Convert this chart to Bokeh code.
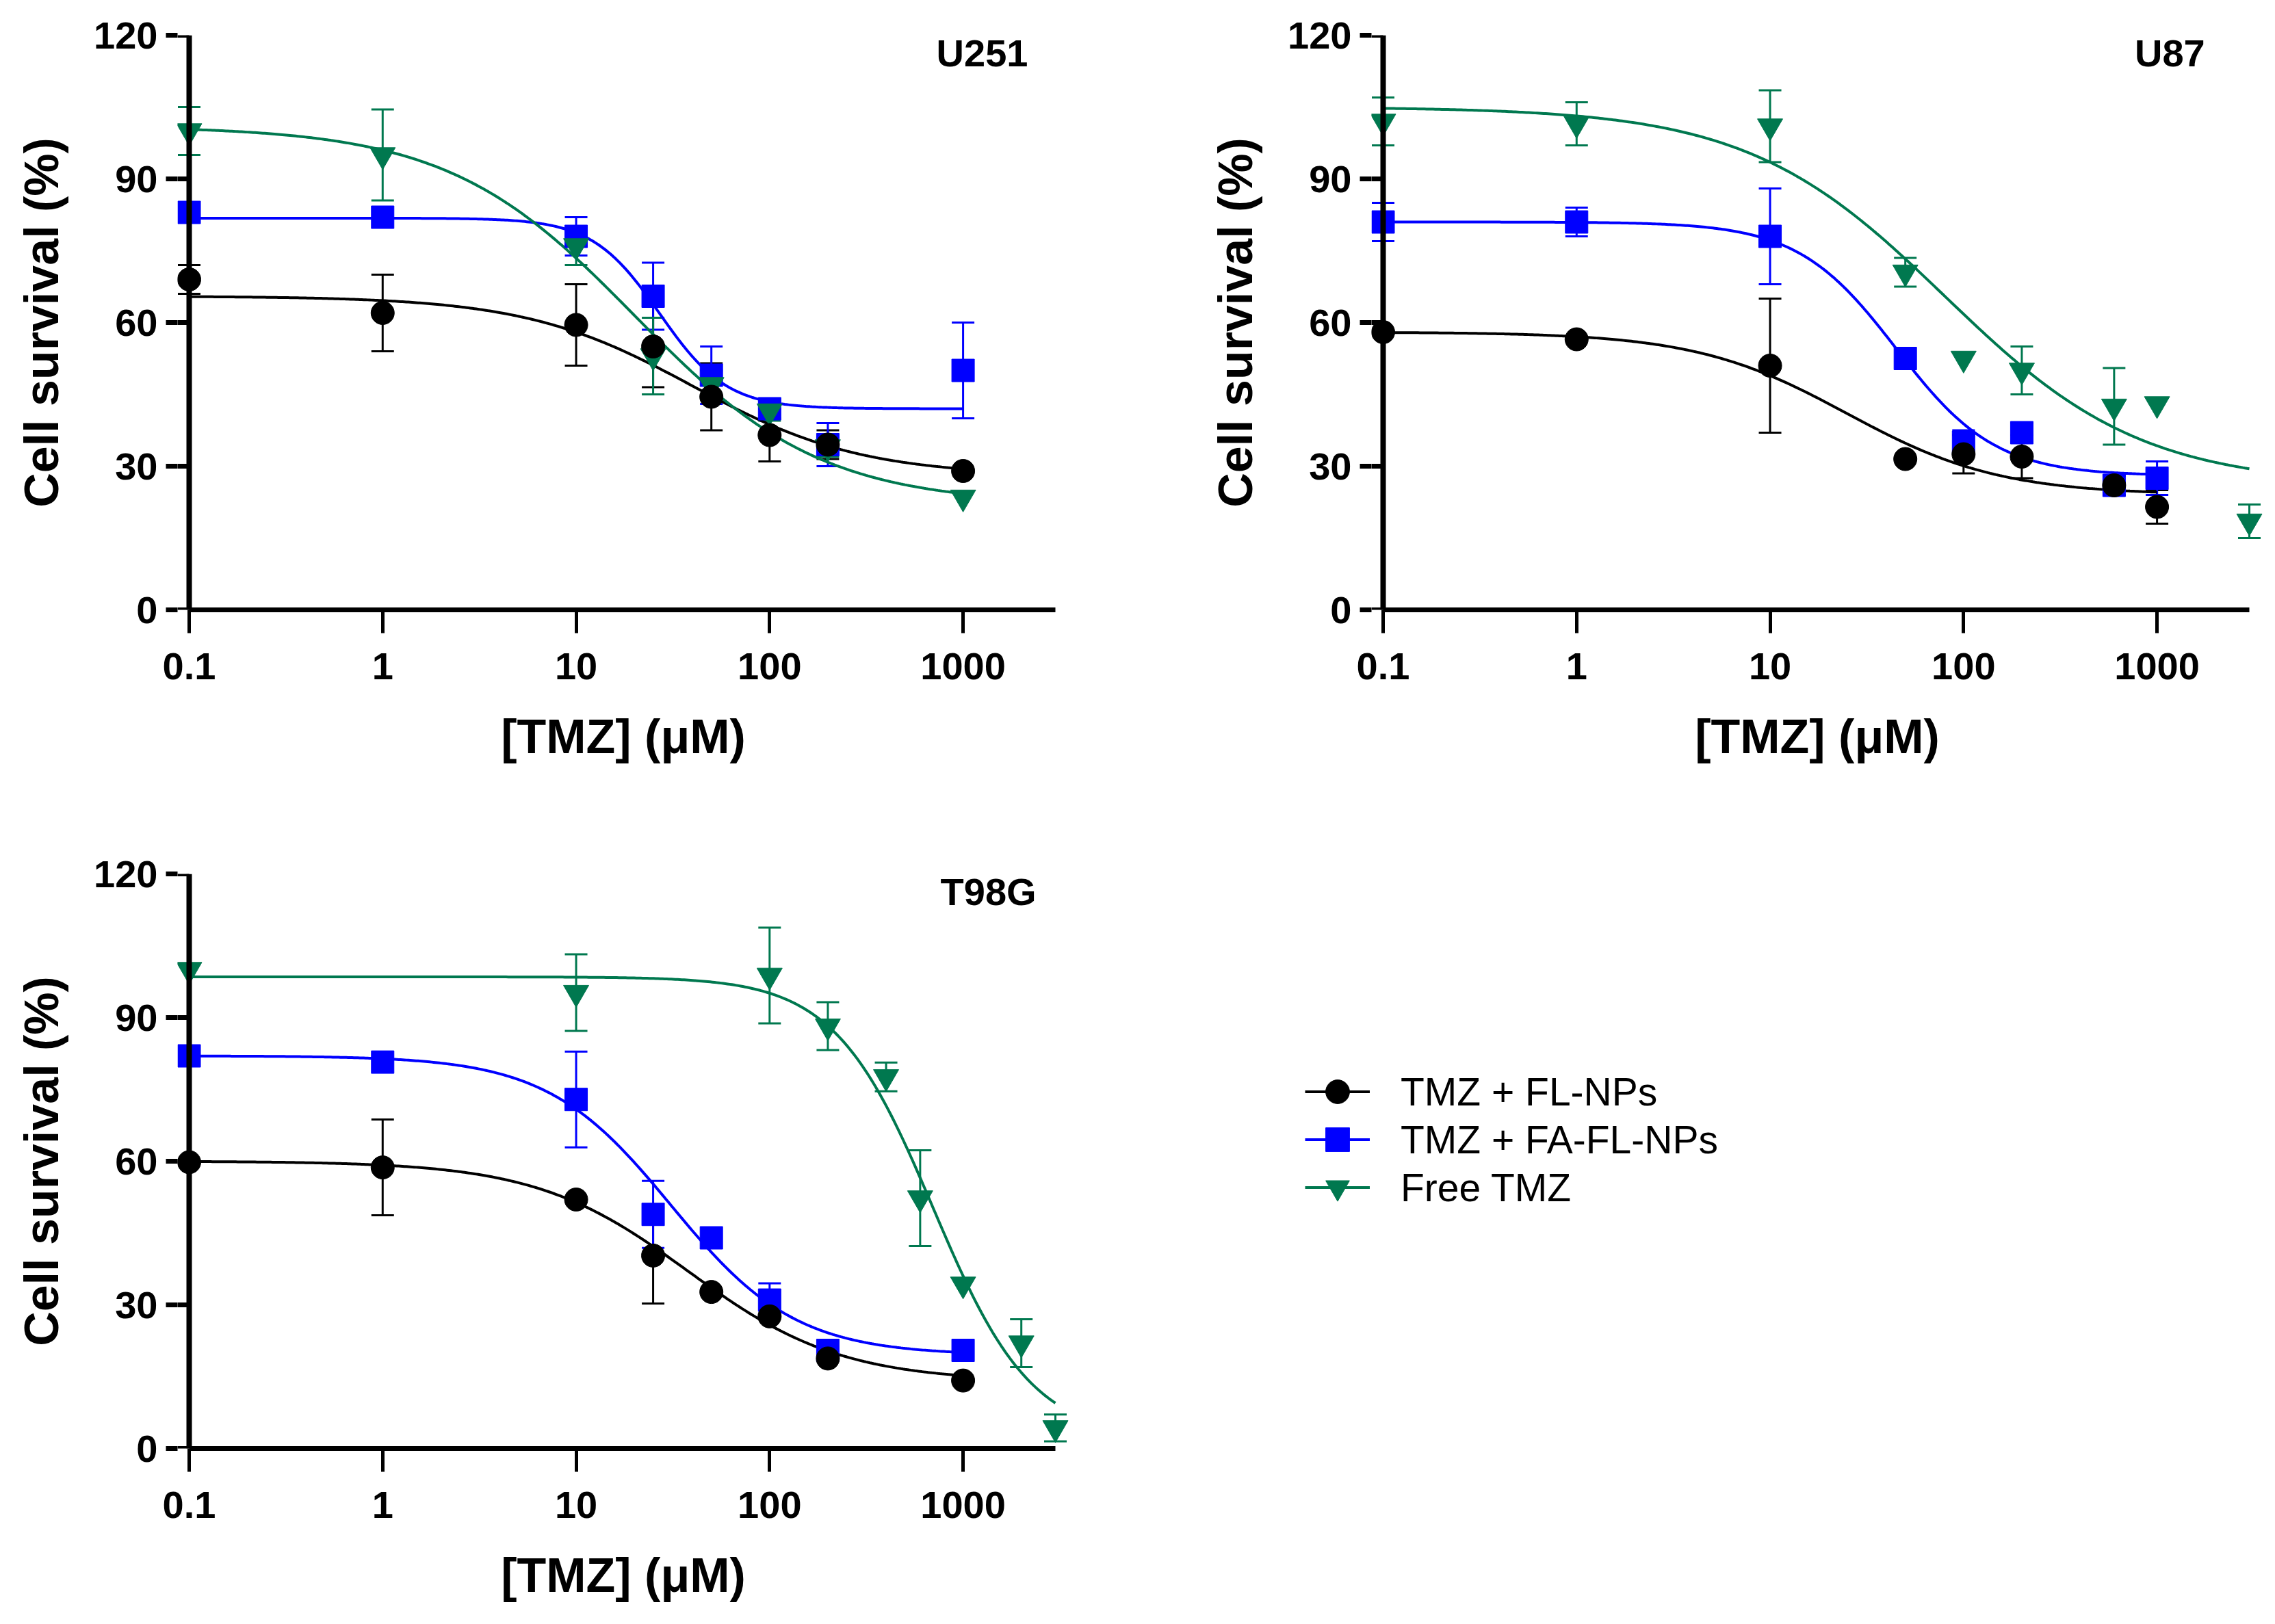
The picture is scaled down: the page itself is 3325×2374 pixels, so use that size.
import numpy as np
from bokeh.plotting import figure
from bokeh.models import (Range1d, FixedTicker, BasicTickFormatter, Whisker, TeeHead,
                          ColumnDataSource, Label, Legend, LegendItem, LinearAxis)
from bokeh.layouts import column, row
from bokeh.embed import file_html
from bokeh.resources import INLINE

# ---------------- data ----------------
series_names = ["TMZ + FL-NPs", "TMZ + FA-FL-NPs", "Free TMZ"]
x_ticks = [0.1, 1, 10, 100, 1000]
x_tick_labels = ["0.1", "1", "10", "100", "1000"]
y_ticks = [0, 30, 60, 90, 120]

# U251
u251_x = [0.1, 1, 10, 25, 50, 100, 200, 1000]
u251_fl = [69, 62, 59.5, 55, 44.5, 36.5, 34.5, 29]
u251_fl_err = [3, 8, 8.5, 8.5, 7, 5.5, 3, 0]
u251_fa = [83, 82, 78, 65.5, 49, 42, 34.5, 50]
u251_fa_err = [0, 0, 4, 7, 6, 2, 4.5, 10]
u251_free_x = [0.1, 1, 10, 25, 50, 100, 200, 1000]
u251_free = [100, 95, 76, 53, 47, 41.5, 34, 23.5]
u251_free_err = [5, 9.5, 4, 8, 3, 2, 2, 0]

# U87
u87_x = [0.1, 1, 10, 50, 100, 200, 600, 1000]
u87_fl = [58, 56.5, 51, 31.5, 32.5, 32, 26, 21.5]
u87_fl_err = [0, 0, 14, 0, 4, 4.5, 2, 3.5]
u87_fa = [81, 81, 78, 52.5, 35, 37, 26, 27.5]
u87_fa_err = [4, 3, 10, 0, 2.5, 2, 2, 3.5]
u87_free_x = [0.1, 1, 10, 50, 100, 200, 600, 1000, 3000]
u87_free = [102, 101.5, 101, 70.5, 52.5, 50, 42.5, 43, 18.5]
u87_free_err = [5, 4.5, 7.5, 3, 0, 5, 8, 0, 3.5]

# T98G
t98g_x = [0.1, 1, 10, 25, 50, 100, 200, 1000]
t98g_fl = [59.8, 58.7, 52, 40.3, 32.7, 27.6, 18.8, 14.2]
t98g_fl_err = [0, 10, 0, 10, 0, 0, 0, 0]
t98g_fa = [82, 80.7, 72.9, 48.9, 44, 31, 20.5, 20.5]
t98g_fa_err = [0, 0, 10, 7, 0, 3.5, 0, 0]
t98g_free_x = [0.1, 10, 100, 200, 400, 600, 1000, 2000, 3000]
t98g_free = [100, 95.2, 98.8, 88.2, 77.6, 52.3, 34.3, 22, 4.3]
t98g_free_err = [0, 8, 10, 5, 3, 10, 0, 5, 2.8]

# four-parameter logistic fit lines: [top, bottom, EC50, hill slope, last x]
u251_fl_fit = [65.5, 28.0, 40, 1.0, 1000]
u251_fa_fit = [81.8, 42.0, 27, 2.5, 1000]
u251_free_fit = [101.0, 22.0, 20, 0.9, 1000]
u87_fl_fit = [58.0, 24.0, 25, 1.1, 1000]
u87_fa_fit = [81.0, 28.0, 45, 1.7, 1000]
u87_free_fit = [105.0, 26.0, 80, 0.85, 3000]
t98g_fl_fit = [60.0, 14.0, 38, 1.1, 1000]
t98g_fa_fit = [82.0, 19.5, 31, 1.35, 1000]
t98g_free_fit = [98.5, 2.0, 700, 1.7, 3000]

# ---------------- styling / layout ----------------
COLORS = ["#000000", "#0000FF", "#00784F"]
MARKERS = ["circle", "square", "inverted_triangle"]
MSIZE = [34, 33, 37]
FONT = "Liberation Sans"

AX0, AX1 = 0.1, 3000
AXIS_PX = 1266
PAD_L, PAD_R = 17, 20
PPD = AXIS_PX / np.log10(AX1 / AX0)
X0 = AX0 / 10 ** (PAD_L / PPD)
X1 = AX1 * 10 ** (PAD_R / PPD)
FW = AXIS_PX + PAD_L + PAD_R
FH = 840
LEFT_W = 1745


def fit_curve(params):
    top, bottom, ec50, hill, xend = params
    xs = np.logspace(np.log10(0.1), np.log10(xend), 400)
    ys = bottom + (top - bottom) / (1 + (xs / ec50) ** hill)
    return xs, ys


def style_text(ax, tick_size="56px"):
    ax.major_label_text_font = FONT
    ax.major_label_text_font_style = "bold"
    ax.major_label_text_font_size = tick_size
    ax.major_label_text_color = "black"
    ax.axis_label_text_font = FONT
    ax.axis_label_text_font_style = "bold"
    ax.axis_label_text_font_size = "70px"
    ax.axis_label_text_color = "black"
    ax.minor_tick_line_color = None


def make_panel(title, title_x, xs_list, ys_list, errs_list, fits, borders):
    bl, br, bt, bb = borders
    p = figure(x_axis_type="log", x_range=Range1d(X0, X1), y_range=Range1d(0, 120),
               frame_width=FW, frame_height=FH, output_backend="svg", toolbar_location=None,
               min_border_left=bl, min_border_right=br, min_border_top=bt, min_border_bottom=bb,
               background_fill_color="white", border_fill_color="white")
    p.outline_line_color = None
    p.grid.visible = False

    # x axis (at y = 0, line from 0.1 to 3000)
    xa = p.xaxis[0]
    xa.bounds = (AX0, AX1)
    xa.ticker = FixedTicker(ticks=x_ticks)
    xa.formatter = BasicTickFormatter()
    xa.major_label_overrides = {t: s for t, s in zip(x_ticks, x_tick_labels)}
    xa.axis_label = "[TMZ] (\u03bcM)"
    xa.major_label_standoff = 29
    xa.axis_label_standoff = 42
    xa.axis_line_width = 7
    xa.axis_line_color = "black"
    xa.major_tick_line_width = 5
    xa.major_tick_line_color = "black"
    xa.major_tick_out = 34
    xa.major_tick_in = 0
    style_text(xa)

    # y axis labels + outer part of the ticks, at the frame edge
    ya = p.yaxis[0]
    ya.bounds = (0, 120)
    ya.ticker = FixedTicker(ticks=y_ticks)
    ya.axis_label = "Cell survival (%)"
    ya.axis_line_color = None
    ya.major_tick_out = PAD_L
    ya.major_tick_in = 0
    ya.major_tick_line_width = 7
    ya.major_tick_line_color = "black"
    ya.major_label_standoff = 12
    ya.axis_label_standoff = 34
    style_text(ya)

    # y axis line at x = 0.1 with the inner part of the ticks
    ya2 = LinearAxis(fixed_location=AX0, bounds=(0, 120), ticker=FixedTicker(ticks=y_ticks),
                     major_label_overrides={t: "" for t in y_ticks},
                     major_label_text_font_size="0px", major_label_standoff=0,
                     axis_line_width=8, axis_line_color="black",
                     major_tick_in=PAD_L, major_tick_out=0,
                     major_tick_line_width=7, major_tick_line_color="black",
                     minor_tick_line_color=None)
    p.add_layout(ya2, "right")

    # fit curves
    for i, fp in enumerate(fits):
        cx, cy = fit_curve(fp)
        p.line(cx, cy, line_color=COLORS[i], line_width=4)

    # error bars
    for i in range(3):
        xs, ys, es = xs_list[i], ys_list[i], errs_list[i]
        keep = [k for k in range(len(xs)) if es[k] > 0]
        src = ColumnDataSource(dict(x=[xs[k] for k in keep],
                                    upper=[ys[k] + es[k] for k in keep],
                                    lower=[ys[k] - es[k] for k in keep]))
        w = Whisker(base="x", upper="upper", lower="lower", source=src,
                    line_color=COLORS[i], line_width=3,
                    upper_head=TeeHead(size=33, line_color=COLORS[i], line_width=3),
                    lower_head=TeeHead(size=33, line_color=COLORS[i], line_width=3))
        p.add_layout(w)

    # markers (black last so it sits on top)
    for i in [1, 2, 0]:
        p.scatter(xs_list[i], ys_list[i], marker=MARKERS[i], size=MSIZE[i],
                  fill_color=COLORS[i], line_color=COLORS[i], line_width=1)

    p.add_layout(Label(x=title_x, y=116.3, text=title, text_align="right",
                       text_baseline="middle", text_font=FONT, text_font_style="bold",
                       text_font_size="56px", text_color="black"))
    return p


p1 = make_panel("U251", 2166,
                [u251_x, u251_x, u251_free_x], [u251_fl, u251_fa, u251_free],
                [u251_fl_err, u251_fa_err, u251_free_err],
                [u251_fl_fit, u251_fa_fit, u251_free_fit],
                (276 - PAD_L, LEFT_W - (276 - PAD_L) - FW, 51, 309))
p2 = make_panel("U87", 1770,
                [u87_x, u87_x, u87_free_x], [u87_fl, u87_fa, u87_free],
                [u87_fl_err, u87_fa_err, u87_free_err],
                [u87_fl_fit, u87_fa_fit, u87_free_fit],
                (2021 - PAD_L - LEFT_W, 10, 51, 309))
p3 = make_panel("T98G", 2390,
                [t98g_x, t98g_x, t98g_free_x], [t98g_fl, t98g_fa, t98g_free],
                [t98g_fl_err, t98g_fa_err, t98g_free_err],
                [t98g_fl_fit, t98g_fa_fit, t98g_free_fit],
                (276 - PAD_L, LEFT_W - (276 - PAD_L) - FW, 77, 240))

# legend panel (same vertical geometry as p3 so the row stays aligned)
p4 = figure(x_range=Range1d(0, 1), y_range=Range1d(0, 1), frame_width=1000, frame_height=FH,
            output_backend="svg", toolbar_location=None,
            min_border_left=1907 - LEFT_W, min_border_right=0,
            min_border_top=77, min_border_bottom=240,
            background_fill_color="white", border_fill_color="white")
p4.axis.visible = False
p4.grid.visible = False
p4.outline_line_color = None
LEG_GLYPH_H = 87
LEG_ROW_CENTERS = [1596, 1666, 1735]   # page y of each legend row
FRAME_BOTTOM_P4 = 1200 + 77 + FH
for i, name in enumerate(series_names):
    rl = p4.line(x=[np.nan], y=[np.nan], line_color=COLORS[i], line_width=4)
    rs = p4.scatter(x=[np.nan], y=[np.nan], marker=MARKERS[i], size=MSIZE[i],
                    fill_color=COLORS[i], line_color=COLORS[i])
    vy = FRAME_BOTTOM_P4 - (LEG_ROW_CENTERS[i] + LEG_GLYPH_H / 2)
    leg = Legend(items=[LegendItem(label=name, renderers=[rl, rs])],
                 location=(0, int(round(vy))), margin=0, padding=0,
                 border_line_color=None, background_fill_alpha=0,
                 glyph_width=95, glyph_height=LEG_GLYPH_H, label_standoff=45, spacing=0,
                 label_text_font=FONT, label_text_font_size="57px", label_text_color="black")
    p4.add_layout(leg)

layout = column(row(p1, p2), row(p3, p4))
open("out.html", "w").write(file_html(layout, INLINE))
